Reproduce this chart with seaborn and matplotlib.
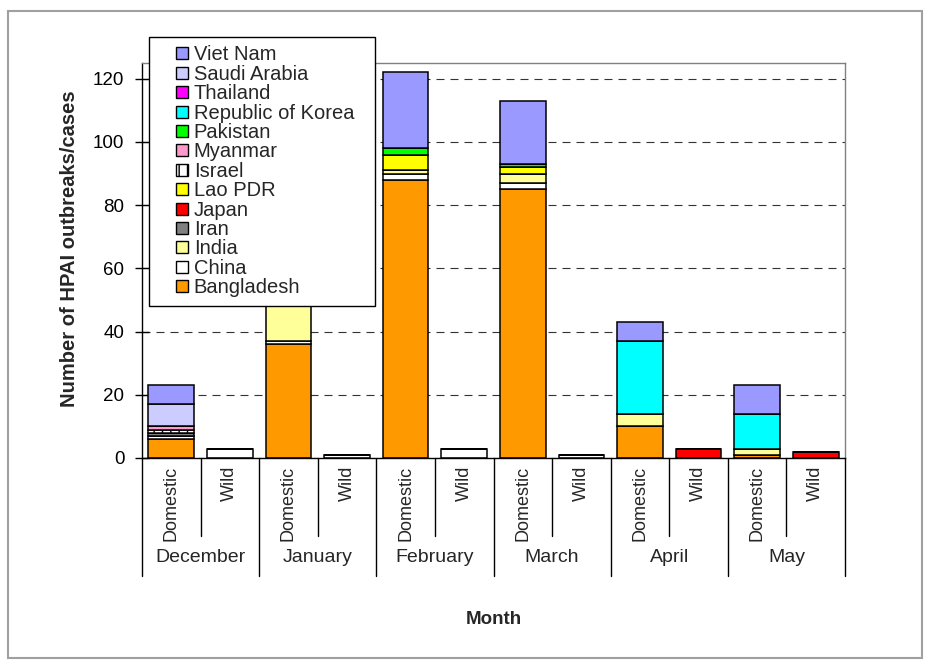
import numpy as np
import pandas as pd
import seaborn as sns
import matplotlib
matplotlib.use("Agg")
import matplotlib.pyplot as plt
import matplotlib.transforms as mtransforms
from matplotlib.patches import Patch, Rectangle
from matplotlib.legend_handler import HandlerPatch
from matplotlib.lines import Line2D
from matplotlib.colors import to_rgba

# ---- data -------------------------------------------------------------
months = ["December", "January", "February", "March", "April", "May"]
bird_types = ["Domestic", "Wild"]

# legend order (top to bottom); the last entry sits at the bottom of each stack
countries = ["Viet Nam", "Saudi Arabia", "Thailand", "Republic of Korea", "Pakistan",
             "Myanmar", "Israel", "Lao PDR", "Japan", "Iran", "India", "China",
             "Bangladesh"]
colors = ["#9999FF", "#CCCCFF", "#FF00FF", "#00FFFF", "#00FF00", "#FF99CC", "#FEFEFE",
          "#FFFF00", "#FF0000", "#808080", "#FFFF99", "#FFFFFF", "#FF9900"]

# counts per month and bird type: Dec-Dom, Dec-Wild, Jan-Dom, Jan-Wild, ...
viet_nam     = [6, 0, 0, 0, 24, 0, 20, 0, 6, 0, 9, 0]
saudi_arabia = [7, 0, 0, 0, 0, 0, 0, 0, 0, 0, 0, 0]
thailand     = [0, 0, 2, 0, 0, 0, 0, 0, 0, 0, 0, 0]
rep_korea    = [0, 0, 0, 0, 0, 0, 0, 0, 23, 0, 11, 0]
pakistan     = [0, 0, 0, 0, 2, 0, 1, 0, 0, 0, 0, 0]
myanmar      = [1, 0, 0, 0, 0, 0, 0, 0, 0, 0, 0, 0]
israel       = [1, 0, 0, 0, 0, 0, 0, 0, 0, 0, 0, 0]
lao_pdr      = [0, 0, 0, 0, 5, 0, 2, 0, 0, 0, 0, 0]
japan        = [0, 0, 0, 0, 0, 0, 0, 0, 0, 3, 0, 2]
iran         = [1, 0, 0, 0, 0, 0, 0, 0, 0, 0, 0, 0]
india        = [0, 0, 16, 0, 1, 0, 3, 0, 4, 0, 2, 0]
china        = [1, 3, 1, 1, 2, 3, 2, 1, 0, 0, 0, 0]
bangladesh   = [6, 0, 36, 0, 88, 0, 85, 0, 10, 0, 1, 0]

series = [viet_nam, saudi_arabia, thailand, rep_korea, pakistan, myanmar, israel,
          lao_pdr, japan, iran, india, china, bangladesh]

rows = []
for name, vals in zip(countries, series):
    for pos, v in enumerate(vals):
        rows.append({"pos": pos, "country": name, "count": v})
df = pd.DataFrame(rows)

# ---- figure -----------------------------------------------------------
W, H, DPI = 931, 668, 100
sns.set_style("white")
plt.rcParams["font.family"] = ["Liberation Sans", "DejaVu Sans"]
plt.rcParams["hatch.linewidth"] = 1.0
plt.rcParams["hatch.color"] = "black"

fig = plt.figure(figsize=(W / DPI, H / DPI), dpi=DPI)
ax_l, ax_r, ax_t, ax_b = 142, 845, 63, 458
ax = fig.add_axes([ax_l / W, 1 - ax_b / H, (ax_r - ax_l) / W, (ax_b - ax_t) / H])

ax.yaxis.grid(True, color="#333333", linestyle=(0, (7.2, 5.4)), linewidth=0.8)
ax.set_axisbelow(True)

sns.histplot(data=df, x="pos", weights="count", hue="country", hue_order=countries,
             palette=dict(zip(countries, colors)), multiple="stack", discrete=True,
             shrink=0.78, edgecolor="black", linewidth=1.1, alpha=1, legend=False, ax=ax)

israel_rgba = to_rgba("#FEFEFE")
for p in ax.patches:
    if np.allclose(p.get_facecolor(), israel_rgba):
        p.set_hatch("||")

ax.set_xlim(-0.5, len(months) * len(bird_types) - 0.5)
ax.set_ylim(0, 125)
ax.set_yticks(np.arange(0, 121, 20))
ax.set_xticks([])
ax.set_xlabel("")
ax.set_ylabel("")
ax.tick_params(axis="y", direction="inout", length=9.4, width=1, labelsize=13.5,
               pad=8.0, left=True, colors="black")

for side in ("left", "bottom"):
    ax.spines[side].set_color("black")
    ax.spines[side].set_linewidth(1.0)
for side in ("top", "right"):
    ax.spines[side].set_color("#808080")
    ax.spines[side].set_linewidth(1.0)

# ---- two-level category axis -----------------------------------------
trans = mtransforms.blended_transform_factory(ax.transData, fig.transFigure)
n_cat = len(months) * len(bird_types)
for k in range(len(months) + 1):
    b = 2 * k - 0.5
    fig.add_artist(Line2D([b, b], [1 - ax_b / H, 1 - 576 / H], transform=trans,
                          color="black", linewidth=1.0))
for k in range(len(months)):
    b = 2 * k + 0.5
    fig.add_artist(Line2D([b, b], [1 - ax_b / H, 1 - 536 / H], transform=trans,
                          color="black", linewidth=1.0))
for i in range(n_cat):
    fig.text(i, 1 - 466 / H, bird_types[i % 2], transform=trans, rotation=90,
             ha="center", va="top", fontsize=13)
for k, m in enumerate(months):
    fig.text(2 * k + 0.5, 1 - 558 / H, m, transform=trans, ha="center",
             va="center", fontsize=14)

fig.text((ax_l + ax_r) / 2 / W, 1 - 620 / H, "Month", ha="center", va="center",
         fontsize=13.5, fontweight="bold")
fig.text(70 / W, 1 - 249 / H, "Number of HPAI outbreaks/cases", rotation=90,
         ha="center", va="center", fontsize=14.5, fontweight="bold")


# ---- legend -----------------------------------------------------------
class SquareHandler(HandlerPatch):
    def __init__(self, size, **kw):
        super().__init__(**kw)
        self.size = size

    def create_artists(self, legend, orig_handle, xdescent, ydescent, width, height,
                       fontsize, trans):
        s = self.size
        p = Rectangle((-xdescent + width - s, -ydescent + (height - s) / 2), s, s)
        self.update_prop(p, orig_handle, legend)
        p.set_transform(trans)
        return [p]


handles = [Patch(facecolor=c, edgecolor="black", linewidth=1.0,
                 hatch="||" if n == "Israel" else None, label=n)
           for n, c in zip(countries, colors)]
LEG_FS = 14.5
leg_l, leg_r, leg_t, leg_b = 149, 375, 37, 303


def make_legend(ls):
    leg = ax.legend(handles=handles, handler_map={Patch: SquareHandler(8.6)},
                    loc="upper left",
                    bbox_to_anchor=(leg_l / W, 1 - leg_b / H, (leg_r - leg_l) / W,
                                    (leg_b - leg_t) / H),
                    bbox_transform=fig.transFigure, mode="expand", fontsize=LEG_FS,
                    labelspacing=ls, handlelength=1.5, handleheight=0.7,
                    handletextpad=0.3, borderpad=0.42, borderaxespad=0, frameon=True,
                    fancybox=False, framealpha=1, edgecolor="black")
    leg.get_frame().set_linewidth(1.0)
    leg.set_zorder(10)
    return leg


leg = make_legend(0.0)
fig.canvas.draw()
renderer = fig.canvas.get_renderer()
ys = [t.get_window_extent(renderer).y0 for t in leg.get_texts()]
gap = (ys[0] - ys[-1]) / (len(ys) - 1)
ls = (19.4 - gap) / (LEG_FS * DPI / 72)
leg.remove()
leg = make_legend(ls)

# outer chart border
fig.add_artist(Rectangle((8 / W, 1 - 658 / H), (922 - 8) / W, (658 - 11) / H,
                         transform=fig.transFigure, fill=False, edgecolor="#A0A0A0",
                         linewidth=1.5))

fig.savefig("out.png", dpi=DPI)
